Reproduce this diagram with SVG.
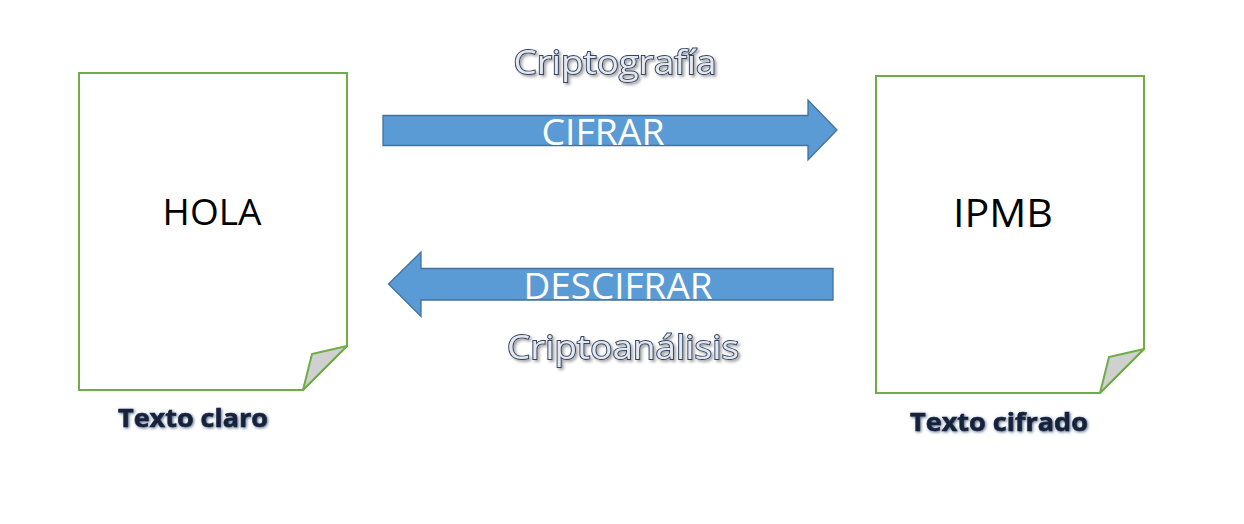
<svg xmlns="http://www.w3.org/2000/svg" width="1244" height="524" viewBox="0 0 1244 524">
<defs>
<filter id="sh" x="-10%" y="-30%" width="120%" height="160%">
<feGaussianBlur in="SourceAlpha" stdDeviation="1.5"/>
<feOffset dx="1.5" dy="1.5" result="b"/>
<feFlood flood-color="#000" flood-opacity="0.35"/>
<feComposite in2="b" operator="in"/>
<feMerge><feMergeNode/><feMergeNode in="SourceGraphic"/></feMerge>
</filter>
<filter id="glow" x="-10%" y="-40%" width="120%" height="180%">
<feGaussianBlur in="SourceAlpha" stdDeviation="1.6"/>
<feOffset dx="1" dy="1" result="b"/>
<feFlood flood-color="#4a5f80" flood-opacity="0.9"/>
<feComposite in2="b" operator="in"/>
<feMerge><feMergeNode/><feMergeNode in="SourceGraphic"/></feMerge>
</filter>
</defs>
<style>
.doc{fill:#fff;stroke:#70ad47;stroke-width:2}
.fold{fill:#d0d0d0;stroke:#70ad47;stroke-width:2;stroke-linejoin:round}
.arrow{fill:#5b9bd5;stroke:#41719c;stroke-width:1.3}
.t{font-family:"Open Sans","Noto Sans",sans-serif;text-anchor:middle}
.big{font-size:33px;fill:#e3e8f0;stroke:#34445f;stroke-width:1.8;paint-order:stroke;filter:url(#sh)}
.white{font-size:37px;fill:#fff}
.black{font-size:37px;fill:#000}
.lbl{font-size:25px;font-weight:bold;fill:#18223a;stroke:#18223a;stroke-width:0.6;filter:url(#glow)}
</style>
<rect width="1244" height="524" fill="#fff"/>
<g id="doc-plain">
<path class="doc" d="M79,73 H347 V346 L303,390 H79 Z"/>
<path class="fold" d="M347,346 L312,354 L303,390 Z"/>
<text class="t black" x="212" y="225">HOLA</text>
</g>
<g id="doc-cipher">
<path class="doc" d="M876,76 H1144 V349 L1100,393 H876 Z"/>
<path class="fold" d="M1144,349 L1109,357 L1100,393 Z"/>
<text class="t black" x="1003" y="227" style="font-size:39px" textLength="100" lengthAdjust="spacingAndGlyphs">IPMB</text>
</g>
<g id="connectors">
<g id="cifrar">
<path class="arrow" d="M383,115.5 H808 V100 L837,130 L808,160 V145.5 H383 Z"/>
<text class="t white" x="603" y="145" textLength="123" lengthAdjust="spacingAndGlyphs">CIFRAR</text>
</g>
<g id="descifrar">
<path class="arrow" d="M833,268.5 H421 V252 L388.5,284 L421,316.5 V300 H833 Z"/>
<text class="t white" x="618" y="299" textLength="189" lengthAdjust="spacingAndGlyphs">DESCIFRAR</text>
</g>
</g>
<text class="t big" x="615" y="74" textLength="203" lengthAdjust="spacingAndGlyphs">Criptografía</text>
<text class="t big" x="623" y="359" textLength="232" lengthAdjust="spacingAndGlyphs">Criptoanálisis</text>
<text class="t lbl" x="193" y="427" textLength="150" lengthAdjust="spacingAndGlyphs">Texto claro</text>
<text class="t lbl" x="999" y="431" textLength="178" lengthAdjust="spacingAndGlyphs">Texto cifrado</text>
</svg>
